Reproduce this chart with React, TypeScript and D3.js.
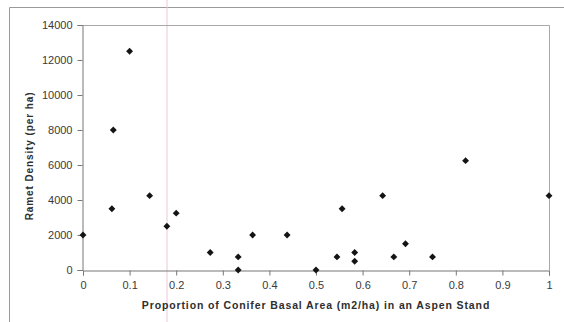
import * as d3 from 'd3';
import React, { useEffect, useRef } from 'react';

// proportion of conifer basal area per stand
const coniferShare = [0, 0.062, 0.065, 0.1, 0.143, 0.18, 0.2, 0.273, 0.333, 0.333, 0.364, 0.438,
  0.5, 0.545, 0.556, 0.583, 0.583, 0.643, 0.667, 0.692, 0.75, 0.821, 1];
// ramet density (per ha), same order as above
const rametDensity = [2000, 3500, 8000, 12500, 4250, 2500, 3250, 1000, 750, 0, 2000, 2000,
  0, 750, 3500, 1000, 500, 4250, 750, 1500, 750, 6250, 4250];

const xTicks = [0, 0.1, 0.2, 0.3, 0.4, 0.5, 0.6, 0.7, 0.8, 0.9, 1];
const yTicks = [0, 2000, 4000, 6000, 8000, 10000, 12000, 14000];

const xTitle = 'Proportion of Conifer Basal Area (m2/ha) in an Aspen Stand';
const yTitle = 'Ramet Density (per ha)';

const width = 564;
const height = 322;
const margin = { top: 25, right: 15, bottom: 52, left: 83 };

export default function App() {
  const svgRef = useRef(null);

  useEffect(() => {
    const svg = d3.select(svgRef.current);
    svg.selectAll('*').remove();
    svg.attr('width', width).attr('height', height);

    const font = 'Arial, "Liberation Sans", sans-serif';
    const x = d3.scaleLinear().domain([0, 1]).range([margin.left, width - margin.right]);
    const y = d3.scaleLinear().domain([0, 14000]).range([height - margin.bottom, margin.top]);

    svg.append('rect').attr('width', width).attr('height', height).attr('fill', '#fff');

    // outer chart frame (only top and left edges are visible in the scan)
    svg.append('path')
      .attr('d', `M9.5,${height} V7.5 H${width}`)
      .attr('fill', 'none')
      .attr('stroke', '#9a9a9a')
      .attr('stroke-width', 1);

    // faint pink scan line
    svg.append('line')
      .attr('x1', 167).attr('x2', 167).attr('y1', 0).attr('y2', height)
      .attr('stroke', '#ecc6dc').attr('stroke-width', 1);

    // plot area border top / right
    svg.append('path')
      .attr('d', `M${x(0)},${y(14000) + 0.5} H${x(1) + 0.5} V${y(0)}`)
      .attr('fill', 'none')
      .attr('stroke', '#a8a8a8')
      .attr('stroke-width', 1);

    const xAxis = svg.append('g')
      .attr('transform', `translate(0,${y(0) + 0.5})`)
      .call(d3.axisBottom(x).tickValues(xTicks).tickSize(5).tickPadding(6)
        .tickFormat((d) => d3.format('')(d)));
    const yAxis = svg.append('g')
      .attr('transform', `translate(${x(0) - 0.5},0)`)
      .call(d3.axisLeft(y).tickValues(yTicks).tickSize(5).tickPadding(5)
        .tickFormat((d) => String(d)));

    [xAxis, yAxis].forEach((g) => {
      g.select('.domain').attr('stroke', '#777');
      g.selectAll('.tick line').attr('stroke', '#777');
      g.selectAll('.tick text')
        .attr('fill', '#3a3a3a')
        .style('font-family', font)
        .style('font-size', '11px');
    });

    // diamond markers
    const diamond = d3.symbol().type(d3.symbolDiamond2).size(30);
    svg.append('g')
      .selectAll('path')
      .data(coniferShare.map((v, i) => [v, rametDensity[i]]))
      .join('path')
      .attr('d', diamond)
      .attr('transform', (d) => `translate(${x(d[0])},${y(d[1])})`)
      .attr('fill', '#141414');

    svg.append('text')
      .attr('x', (x(0) + x(1)) / 2)
      .attr('y', 309)
      .attr('text-anchor', 'middle')
      .attr('fill', '#2e2e2e')
      .style('font-family', font)
      .style('font-size', '10.5px')
      .style('font-weight', 'bold')
      .style('letter-spacing', '0.88px')
      .text(xTitle);

    svg.append('text')
      .attr('transform', `translate(33,156) rotate(-90)`)
      .attr('text-anchor', 'middle')
      .attr('fill', '#2e2e2e')
      .style('font-family', font)
      .style('font-size', '10px')
      .style('font-weight', 'bold')
      .style('letter-spacing', '0.9px')
      .text(yTitle);
  }, []);

  return (
    <div style={{ position: 'absolute', left: 0, top: 0 }}>
      <svg ref={svgRef} style={{ display: 'block' }} />
    </div>
  );
}
